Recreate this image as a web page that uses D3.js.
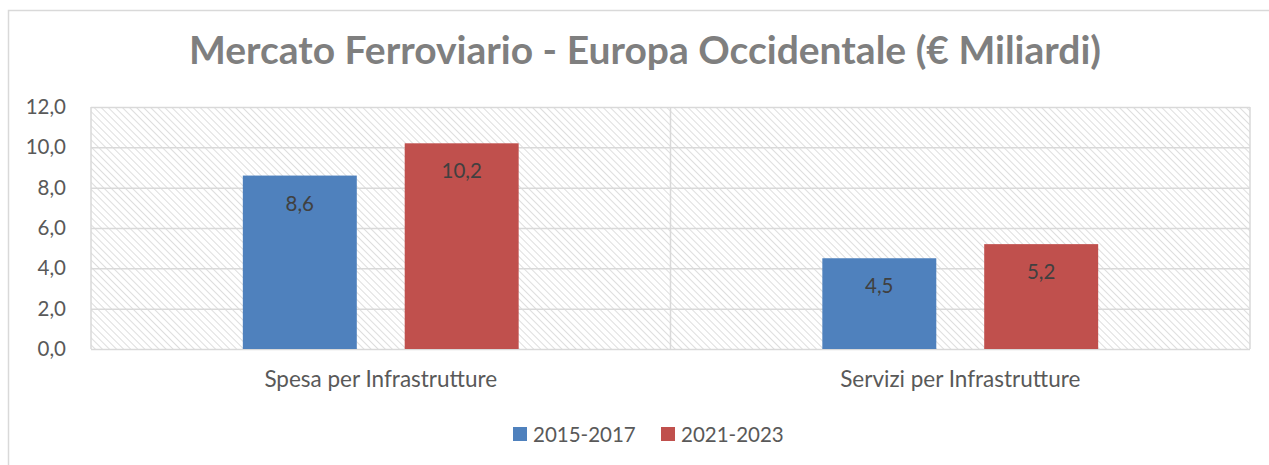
<!DOCTYPE html>
<meta charset="utf-8">
<style>
    body { margin: 0; background: #fff; }
    text { font-family: Lato, "Open Sans", sans-serif; }
    .grid line { stroke: #d9d9d9; stroke-width: 1.5px; }
    .grid path { display: none; }
    .axis-y path, .axis-y line { display: none; }
    .axis-y text { fill: #595959; font-size: 20.5px; }
    .axis-x path, .axis-x line { display: none; }
    .axis-x text { fill: #595959; font-size: 22.5px; }
</style>
<body>
<script src="https://d3js.org/d3.v7.min.js"></script>
<script>

    // data
    var categories = ["Spesa per Infrastrutture", "Servizi per Infrastrutture"];
    var series = ["2015-2017", "2021-2023"];
    var values2015 = [8.6, 4.5];
    var values2021 = [10.2, 5.2];
    var yTicks = [0, 2, 4, 6, 8, 10, 12];
    var colors = ["#4f81bd", "#c0504d"];

    var W = 1269, H = 465;
    var plot = {left: 91, right: 1250, top: 107, bottom: 349};

    var svg = d3.select("body").append("svg")
        .attr("width", W)
        .attr("height", H);

    // hatch pattern for the plot area
    var pat = svg.append("defs").append("pattern")
        .attr("id", "hatch")
        .attr("patternUnits", "userSpaceOnUse")
        .attr("width", 5).attr("height", 5)
        .attr("patternTransform", "rotate(-45)");
    pat.append("line")
        .attr("x1", 0).attr("y1", 0).attr("x2", 0).attr("y2", 5)
        .attr("stroke", "#dedede").attr("stroke-width", 2);

    // chart frame
    svg.append("rect")
        .attr("x", 8.5).attr("y", 10.5)
        .attr("width", 1300).attr("height", 500)
        .attr("fill", "#fff").attr("stroke", "#d9d9d9").attr("stroke-width", 1.5);

    // scales
    var x0 = d3.scaleBand().domain(categories).range([plot.left, plot.right]);
    var x1 = d3.scaleBand().domain(series)
        .range([x0.bandwidth() * 0.262, x0.bandwidth() * 0.738])
        .paddingInner(0.296);
    var y = d3.scaleLinear().domain([0, 12]).range([plot.bottom, plot.top]);

    // plot area background
    svg.append("rect")
        .attr("x", plot.left).attr("y", plot.top)
        .attr("width", plot.right - plot.left).attr("height", plot.bottom - plot.top)
        .attr("fill", "url(#hatch)");

    // horizontal gridlines
    svg.append("g")
        .attr("class", "grid")
        .attr("transform", "translate(" + plot.left + ",0)")
        .call(d3.axisLeft(y).tickValues(yTicks)
            .tickSize(-(plot.right - plot.left))
            .tickFormat(""));

    // vertical lines between categories
    var vlines = [plot.left, plot.right].concat(categories.slice(1).map(function(c) { return x0(c); }));
    svg.append("g").selectAll("line")
        .data(vlines)
        .enter().append("line")
        .attr("x1", function(d) { return d; }).attr("x2", function(d) { return d; })
        .attr("y1", plot.top).attr("y2", plot.bottom)
        .attr("stroke", "#d9d9d9").attr("stroke-width", 1.5);

    // bars
    var rows = categories.map(function(c, i) {
        return {cat: c, vals: [values2015[i], values2021[i]]};
    });
    var groups = svg.selectAll(".group")
        .data(rows)
        .enter().append("g")
        .attr("class", "group")
        .attr("transform", function(d) { return "translate(" + x0(d.cat) + ",0)"; });

    var bars = groups.selectAll("g")
        .data(function(d) { return d.vals.map(function(v, j) { return {s: series[j], v: v, j: j}; }); })
        .enter().append("g");

    bars.append("rect")
        .attr("x", function(d) { return x1(d.s); })
        .attr("y", function(d) { return y(d.v); })
        .attr("width", x1.bandwidth())
        .attr("height", function(d) { return y(0) - y(d.v); })
        .attr("fill", function(d) { return colors[d.j]; });

    bars.append("text")
        .attr("x", function(d) { return x1(d.s) + x1.bandwidth() / 2; })
        .attr("y", function(d) { return y(d.v) + 35; })
        .attr("text-anchor", "middle")
        .attr("fill", "#404040")
        .style("font-size", "20.5px")
        .text(function(d) { return d3.format(".1f")(d.v).replace(".", ","); });

    // y axis labels
    svg.append("g")
        .attr("class", "axis-y")
        .attr("transform", "translate(" + (plot.left - 22) + ",0)")
        .call(d3.axisLeft(y).tickValues(yTicks).tickSize(0)
            .tickFormat(function(d) { return d3.format(".1f")(d).replace(".", ","); }));

    // x axis labels
    svg.append("g")
        .attr("class", "axis-x")
        .attr("transform", "translate(0," + (plot.bottom + 19) + ")")
        .call(d3.axisBottom(x0).tickSize(0));

    // title
    svg.append("text")
        .attr("x", 645).attr("y", 64)
        .attr("text-anchor", "middle")
        .attr("fill", "#7f7f7f")
        .style("font-size", "39px")
        .style("font-weight", "bold")
        .text("Mercato Ferroviario - Europa Occidentale (€ Miliardi)");

    // legend
    var legend = svg.append("g").attr("transform", "translate(513,427)");
    var li = legend.selectAll("g")
        .data(series)
        .enter().append("g")
        .attr("transform", function(d, i) { return "translate(" + (i * 148) + ",0)"; });
    li.append("rect")
        .attr("width", 14).attr("height", 14)
        .attr("fill", function(d, i) { return colors[i]; });
    li.append("text")
        .attr("x", 20).attr("y", 14.5)
        .attr("fill", "#595959")
        .style("font-size", "20.5px")
        .text(function(d) { return d; });

</script>
</body>
